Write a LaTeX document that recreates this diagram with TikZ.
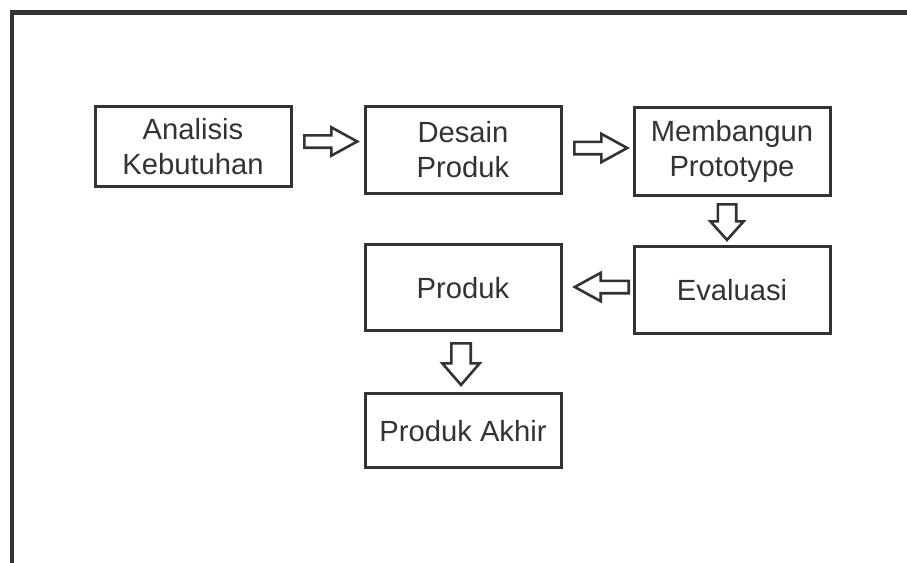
\documentclass[tikz,border=0pt]{standalone}
\usepackage{fontspec}
\setmainfont{Liberation Sans}
\usetikzlibrary{positioning,calc}
\definecolor{Ink}{HTML}{333333}
\tikzset{
  stage/.style={
    draw=Ink,line width=1.5pt,fill=white,
    minimum width=98pt,minimum height=43.5pt,align=center,text=Ink,
    font=\fontsize{14.6pt}{17.5pt}\selectfont
  },
  % hollow block arrow: shaft half width, head half width, head length
  blockarrow/.style n args={3}{
    draw=Ink,line width=1.3pt,fill=white,line join=miter,
    to path={
      let \p1=($(\tikztotarget)-(\tikztostart)$),
          \n1={atan2(\y1,\x1)},\n2={veclen(\x1,\y1)} in
      [shift={(\tikztostart)},rotate=\n1]
      (0pt,-#1) -- (\n2-#3,-#1) -- (\n2-#3,-#2) -- (\n2,0pt)
      -- (\n2-#3,#2) -- (\n2-#3,#1) -- (0pt,#1) -- cycle
    }
  },
  harrow/.style={blockarrow={3.1pt}{7.1pt}{12.95pt}}
}
\begin{document}
\begin{tikzpicture}[x=0.5pt,y=-0.5pt]
  \useasboundingbox (0,0) rectangle (907,563);
  % frame
  \draw[Ink,line width=2.25pt] (907,12.5) -- (12,12.5) -- (12,563);
  % stages
  \node[stage,minimum height=40pt] (analisis) at (193,146.5) {Analisis\\Kebutuhan};
  \node[stage,right=35.5pt of analisis.north east,anchor=north west] (desain) {Desain\\Produk};
  \node[stage,right=35pt of desain.north east,anchor=north west,yshift=-0.5pt,minimum height=44pt] (membangun) {Membangun\\Prototype};
  \node[stage,below=24pt of membangun] (evaluasi) {Evaluasi};
  \node[stage,left=35pt of evaluasi,yshift=1.2pt,minimum height=43pt] (produk) {Produk};
  \node[stage,below=30pt of produk,minimum height=37pt] (akhir) {Produk Akhir};
  % block arrows
  \draw[harrow] ([xshift=5.9pt,yshift=2.5pt]analisis.east) to ([xshift=-3.15pt,yshift=4.25pt]desain.west);
  \draw[harrow] ([xshift=5.9pt,yshift=1pt]desain.east) to ([xshift=-2.65pt,yshift=1.75pt]membangun.west);
  \draw[blockarrow={4.6pt}{8.35pt}{9.3pt}] ([xshift=-2.5pt,yshift=-3.65pt]membangun.south) to ([xshift=-2.5pt,yshift=2.55pt]evaluasi.north);
  \draw[harrow] ([xshift=-1.9pt,yshift=1.5pt]evaluasi.west) to ([xshift=6.15pt,yshift=0.3pt]produk.east);
  \draw[blockarrow={4.85pt}{9.35pt}{10.8pt}] ([xshift=-1pt,yshift=-5.6pt]produk.south) to ([xshift=-1pt,yshift=3.6pt]akhir.north);
\end{tikzpicture}
\end{document}
